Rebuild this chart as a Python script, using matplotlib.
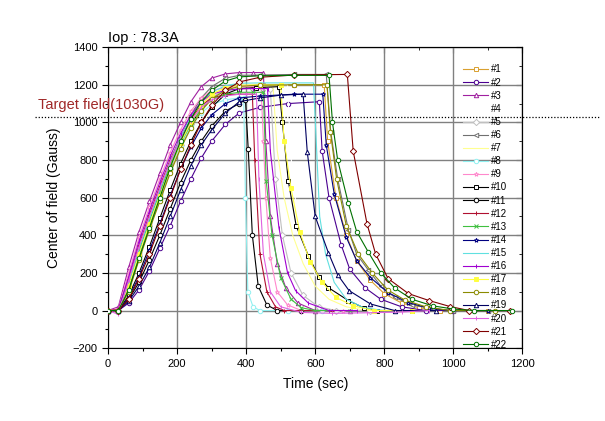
import matplotlib
matplotlib.use('Agg')
from matplotlib import pyplot as plt
from matplotlib.ticker import MultipleLocator
import matplotlib.transforms as mtransforms

plt.rcParams['font.family'] = ['Liberation Sans', 'DejaVu Sans']

# data
labels = ['#%d' % i for i in range(1, 23)]
rise_t = [0, 30, 60, 90, 120, 150, 180, 210, 240, 270, 300, 340, 380]
rise_vals = [
    [0, 0, 110, 280, 440, 590, 740, 870, 980, 1070, 1130, 1175, 1195],     # 1
    [0, 0, 40, 110, 210, 330, 450, 580, 700, 810, 900, 990, 1050],        # 2
    [0, 20, 230, 420, 580, 730, 880, 1000, 1110, 1190, 1235, 1258, 1265],  # 3
    [0, 0, 120, 290, 450, 600, 750, 880, 990, 1080, 1140, 1180, 1195],     # 4
    [0, 0, 120, 290, 450, 600, 750, 880, 990, 1080, 1135, 1170, 1180],     # 5
    [0, 0, 120, 300, 460, 620, 780, 920, 1040, 1130, 1190, 1235, 1250],    # 6
    [0, 0, 140, 310, 470, 620, 770, 900, 1010, 1090, 1150, 1180, 1190],    # 7
    [0, 0, 140, 310, 470, 620, 760, 880, 980, 1050, 1095, 1120, 1130],     # 8
    [0, 10, 200, 390, 550, 700, 840, 960, 1060, 1130, 1170, 1185, 1190],   # 9
    [0, 0, 80, 200, 340, 490, 640, 780, 900, 1000, 1080, 1150, 1180],      # 10
    [0, 0, 60, 150, 270, 400, 540, 680, 800, 900, 980, 1060, 1100],        # 11
    [0, 5, 170, 350, 510, 660, 800, 920, 1020, 1090, 1130, 1148, 1150],    # 12
    [0, 0, 150, 320, 480, 630, 770, 890, 990, 1070, 1120, 1150, 1160],     # 13
    [0, 0, 70, 180, 320, 460, 610, 750, 870, 970, 1040, 1100, 1130],       # 14
    [0, 0, 150, 330, 490, 640, 790, 920, 1030, 1110, 1160, 1195, 1208],    # 15
    [-10, 5, 180, 370, 530, 680, 820, 940, 1040, 1110, 1150, 1170, 1178],  # 16
    [0, 0, 130, 300, 460, 610, 760, 890, 1000, 1090, 1150, 1185, 1198],    # 17
    [0, 0, 100, 270, 430, 580, 730, 860, 970, 1060, 1125, 1170, 1192],     # 18
    [0, 0, 50, 130, 230, 360, 500, 640, 770, 880, 960, 1050, 1110],        # 19
    [0, -20, 160, 340, 500, 650, 790, 910, 1010, 1080, 1120, 1140, 1150],  # 20
    [0, 0, 60, 170, 300, 450, 600, 750, 880, 1000, 1090, 1170, 1215],      # 21
    [0, 0, 110, 280, 440, 600, 760, 900, 1020, 1110, 1170, 1220, 1242],    # 22
]
fall_t = [
    [450, 540, 626, 636, 660, 690, 720, 760, 800, 850, 900, 960, 1100],
    [440, 520, 612, 620, 640, 675, 700, 745, 790, 850, 920, 1000],
    [420, 450, 457, 470, 490, 515, 550, 600, 700],
    [440, 520, 528, 545, 570, 600, 640, 690, 750],
    [420, 470, 485, 505, 530, 565, 610, 660, 760],
    [440, 540, 632, 645, 665, 696, 720, 754, 790, 830, 880, 940, 1000, 1100],
    [420, 478, 490, 510, 535, 565, 600, 640, 690, 750, 850],
    [393, 398, 405, 420, 440, 520, 620],
    [420, 443, 450, 457, 470, 490, 520, 560, 680],
    [430, 495, 505, 522, 545, 580, 610, 638, 696, 740, 780, 880],
    [398, 406, 418, 435, 460, 490, 560],
    [418, 425, 440, 460, 485, 510, 650],
    [420, 450, 458, 475, 500, 530, 560, 600, 700],
    [440, 540, 622, 632, 655, 690, 720, 760, 811, 870, 930, 990, 1100],
    [440, 520, 595, 603, 613, 630, 655, 690, 740, 800, 900],
    [420, 462, 470, 495, 520, 543, 580, 640, 720],
    [440, 500, 510, 530, 555, 585, 620, 660, 710, 770, 880],
    [440, 540, 634, 644, 662, 690, 725, 765, 810, 860, 920, 990, 1120],
    [440, 500, 565, 577, 600, 638, 665, 698, 760, 830, 950],
    [400, 430, 437, 450, 470, 500, 560, 650, 750, 850, 930],
    [440, 540, 693, 710, 750, 775, 811, 870, 930, 991, 1046, 1165],
    [440, 540, 640, 650, 665, 696, 720, 754, 790, 830, 880, 940, 1000, 1060, 1170],
]
fall_vals = [
    [1198, 1200, 1200, 900, 600, 400, 265, 160, 90, 40, 15, 0, 0],
    [1080, 1100, 1110, 850, 600, 350, 220, 120, 60, 20, 0, 0],
    [1265, 1265, 900, 500, 250, 120, 40, 0, 0],
    [1200, 1200, 850, 550, 330, 190, 90, 30, 0],
    [1180, 1180, 700, 400, 200, 80, 20, 0, 0],
    [1252, 1255, 1255, 950, 700, 430, 300, 215, 130, 70, 30, 10, 0, 0],
    [1190, 1190, 850, 600, 400, 250, 130, 60, 20, 0, 0],
    [1130, 600, 100, 20, 0, 0, 0],
    [1190, 1190, 900, 600, 280, 100, 30, 0, 0],
    [1185, 1190, 1000, 690, 450, 292, 180, 122, 53, 15, 0, 0],
    [1120, 860, 400, 130, 30, 0, 0],
    [1150, 800, 300, 100, 20, 0, 0],
    [1160, 1160, 690, 400, 175, 60, 15, 0, 0],
    [1140, 1150, 1150, 880, 620, 390, 265, 175, 95, 42, 12, 0, 0],
    [1210, 1210, 1210, 900, 500, 300, 150, 60, 15, 0, 0],
    [1180, 1180, 850, 440, 200, 106, 40, 0, 0],
    [1200, 1200, 900, 650, 420, 260, 150, 70, 25, 0, 0],
    [1198, 1200, 1200, 950, 700, 450, 300, 200, 110, 55, 20, 0, 0],
    [1130, 1145, 1150, 843, 500, 308, 190, 106, 35, 0, 0],
    [1150, 1150, 700, 300, 100, 20, -10, -15, -12, -8, 0],
    [1240, 1252, 1255, 848, 461, 300, 170, 90, 53, 21, 0, 0],
    [1248, 1250, 1250, 1000, 800, 570, 420, 310, 200, 120, 60, 25, 8, 0, 0],
]
target_field = 1030

colors = ['#D9A030', '#4B0090', '#A020A0', 'white', '#C0C0C0', '#707070',
          '#FFFF90', '#90F0F0', '#FF88CC', 'black', 'black', '#B01030',
          '#40C040', '#000080', '#60E0E0', '#A000D0', '#FFFF40', '#8B8B00',
          '#000060', '#E060E0', '#800000', '#007000']
markers = ['s', 'o', '^', 'None', 'D', '<', 'None', 'o', '*', 's', 'o', '+',
           'x', '*', 'None', '|', 's', 'o', '^', '|', 'D', 'o']

fig = plt.figure(figsize=(6.05, 4.21), dpi=100)
ax = fig.add_axes([0.1785, 0.173, 0.685, 0.715])

for i in range(len(labels)):
    t = rise_t + fall_t[i]
    v = rise_vals[i] + fall_vals[i]
    face = colors[i] if i == 16 else 'white'
    ax.plot(t, v, color=colors[i], lw=0.8, marker=markers[i], markersize=3.2,
            markerfacecolor=face, markeredgewidth=0.7, label=labels[i], zorder=3)

ax.set_xlim(0, 1200)
ax.set_ylim(-200, 1400)
ax.xaxis.set_major_locator(MultipleLocator(200))
ax.xaxis.set_minor_locator(MultipleLocator(100))
ax.yaxis.set_major_locator(MultipleLocator(200))
ax.yaxis.set_minor_locator(MultipleLocator(100))
ax.grid(True, which='major', color='#808080', lw=1.0, zorder=0)
ax.tick_params(which='both', direction='out', labelsize=8, width=0.8)
ax.tick_params(which='major', length=4)
ax.tick_params(which='minor', length=2)

# mirrored ticks pointing inward on top and right
secx = ax.secondary_xaxis('top')
secx.xaxis.set_major_locator(MultipleLocator(200))
secx.xaxis.set_minor_locator(MultipleLocator(100))
secx.tick_params(which='both', direction='in', labeltop=False)
secx.tick_params(which='major', length=4)
secx.tick_params(which='minor', length=2)
secy = ax.secondary_yaxis('right')
secy.yaxis.set_major_locator(MultipleLocator(200))
secy.yaxis.set_minor_locator(MultipleLocator(100))
secy.tick_params(which='both', direction='in', labelright=False)
secy.tick_params(which='major', length=4)
secy.tick_params(which='minor', length=2)

ax.set_xlabel('Time (sec)', fontsize=10, labelpad=6)
ax.set_ylabel('Center of field (Gauss)', fontsize=10, labelpad=8)
ax.text(0.0, 1.008, 'Iop : 78.3A', transform=ax.transAxes, fontsize=10.5,
        ha='left', va='bottom')

# target field line across the whole figure
trans = mtransforms.blended_transform_factory(fig.transFigure, ax.transData)
ax.plot([35 / 605, 600 / 605], [target_field, target_field], transform=trans,
        color='black', lw=0.9, ls=(0, (1, 1.5)), clip_on=False, zorder=4)
ax.text(38 / 605, target_field + 25, 'Target field(1030G)', transform=trans,
        color='#A02828', fontsize=10.5, ha='left', va='bottom')

ax.legend(loc='upper left', bbox_to_anchor=(0.84, 0.965), frameon=False,
          fontsize=7, labelspacing=0.32, handlelength=2.6, handletextpad=0.3,
          borderpad=0.2, numpoints=1)

plt.savefig('out.png', dpi=100)
